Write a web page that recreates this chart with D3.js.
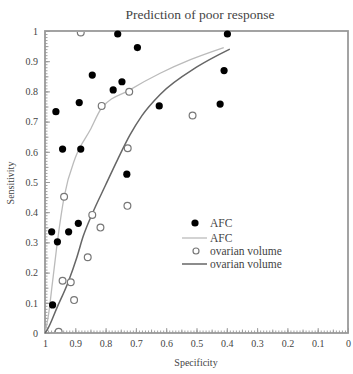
<!DOCTYPE html>
<html><head><meta charset="utf-8">
<script src="https://cdn.jsdelivr.net/npm/d3@7"></script>
<style>body{margin:0;background:#fff}svg{display:block}text{font-family:"Liberation Serif","Times New Roman",serif;fill:#444}</style>
</head><body>
<script>
const title = "Prediction of poor response";
const xLabel = "Specificity";
const yLabel = "Sensitivity";
const tickValues = [0,0.1,0.2,0.3,0.4,0.5,0.6,0.7,0.8,0.9,1];
const tickLabels = ["0","0.1","0.2","0.3","0.4","0.5","0.6","0.7","0.8","0.9","1"];
const legendLabels = ["AFC","AFC","ovarian volume","ovarian volume"];
// AFC observed points [specificity, sensitivity]
const afcSpec = [0.760,0.695,0.844,0.746,0.775,0.887,0.964,0.942,0.882,0.730,0.890,0.978,0.922,0.959,0.975,0.398,0.623,0.409,0.422];
const afcSens = [0.990,0.945,0.854,0.832,0.805,0.763,0.733,0.609,0.609,0.526,0.363,0.335,0.335,0.302,0.093,0.990,0.752,0.869,0.758];
// ovarian volume observed points
const ovSpec = [0.882,0.722,0.813,0.727,0.937,0.728,0.844,0.817,0.859,0.942,0.915,0.904,0.955,0.513];
const ovSens = [0.995,0.799,0.752,0.612,0.451,0.421,0.391,0.349,0.251,0.173,0.168,0.109,0.004,0.720];
// fitted curves
const afcCurveSpec = [1,0.99,0.975,0.958,0.937,0.90,0.851,0.813,0.72,0.62,0.52,0.41];
const afcCurveSens = [0,0.05,0.17,0.31,0.45,0.58,0.672,0.745,0.805,0.86,0.905,0.945];
const ovCurveSpec = [1,0.993,0.96,0.923,0.895,0.874,0.844,0.80,0.76,0.72,0.68,0.62,0.5,0.39];
const ovCurveSens = [0,0.01,0.085,0.17,0.25,0.32,0.395,0.49,0.575,0.655,0.72,0.79,0.88,0.94];

const W=353,H=374;
const m={l:45,r:348,t:31,b:333};
const svg=d3.select("body").append("svg").attr("width",W).attr("height",H);
const x=d3.scaleLinear().domain([1,0]).range([m.l,m.r]);
const y=d3.scaleLinear().domain([0,1]).range([m.b,m.t]);

svg.append("defs").append("clipPath").attr("id","clip").append("rect")
  .attr("x",m.l+1).attr("y",m.t+1).attr("width",m.r-m.l-2).attr("height",m.b-m.t-2);

svg.append("text").attr("x",200).attr("y",19).attr("text-anchor","middle").attr("font-size",13.5).text(title);

// frame
const frameCol="#999";
svg.append("rect").attr("x",m.l).attr("y",m.t).attr("width",m.r-m.l).attr("height",m.b-m.t)
  .attr("fill","none").attr("stroke",frameCol).attr("stroke-width",1.8);

const minor=d3.range(0,101).map(i=>i/100);
const mid=d3.range(0,21).map(i=>i/20);
function axes(){
  const gx=svg.append("g").attr("transform",`translate(0,${m.b})`);
  gx.append("g").call(d3.axisBottom(x).tickValues(minor).tickSize(-2.5).tickFormat(""));
  gx.append("g").call(d3.axisBottom(x).tickValues(mid).tickSize(-3.5).tickFormat(""));
  gx.append("g").call(d3.axisBottom(x).tickValues(tickValues).tickSize(-5).tickPadding(7).tickFormat((d,i)=>tickLabels[i]));
  const gy=svg.append("g").attr("transform",`translate(${m.l},0)`);
  gy.append("g").call(d3.axisLeft(y).tickValues(minor).tickSize(-2.5).tickFormat(""));
  gy.append("g").call(d3.axisLeft(y).tickValues(mid).tickSize(-3.5).tickFormat(""));
  gy.append("g").call(d3.axisLeft(y).tickValues(tickValues).tickSize(-5).tickPadding(7).tickFormat((d,i)=>tickLabels[i]));
  svg.selectAll(".domain").remove();
  svg.selectAll(".tick line").attr("stroke",frameCol).attr("stroke-width",0.9);
  svg.selectAll(".tick text").attr("font-family","Liberation Serif, serif").attr("font-size",10).attr("fill","#555");
}
axes();

svg.append("text").attr("x",196).attr("y",366).attr("text-anchor","middle").attr("font-size",10).attr("fill","#555").text(xLabel);
svg.append("text").attr("transform","translate(14,183) rotate(-90)").attr("text-anchor","middle").attr("font-size",10).attr("fill","#555").text(yLabel);

const line=d3.line().x(d=>x(d[0])).y(d=>y(d[1])).curve(d3.curveMonotoneX);
svg.append("path").attr("d",line(afcCurveSpec.map((s,i)=>[s,afcCurveSens[i]])))
  .attr("fill","none").attr("stroke","#bbb").attr("stroke-width",1.3);
svg.append("path").attr("d",line(ovCurveSpec.map((s,i)=>[s,ovCurveSens[i]])))
  .attr("fill","none").attr("stroke","#666").attr("stroke-width",1.5);

svg.append("g").attr("clip-path","url(#clip)").selectAll("circle").data(ovSpec.map((s,i)=>[s,ovSens[i]])).join("circle")
  .attr("cx",d=>x(d[0])).attr("cy",d=>y(d[1])).attr("r",3.4).attr("fill","#fff").attr("stroke","#777").attr("stroke-width",1.2);
svg.append("g").selectAll("circle").data(afcSpec.map((s,i)=>[s,afcSens[i]])).join("circle")
  .attr("cx",d=>x(d[0])).attr("cy",d=>y(d[1])).attr("r",3.6).attr("fill","#000");

// legend
const lg=svg.append("g");
const lx=210, ly=[223,238,251,264];
lg.append("circle").attr("cx",195).attr("cy",ly[0]).attr("r",3.6).attr("fill","#000");
lg.append("line").attr("x1",182).attr("x2",207).attr("y1",ly[1]).attr("y2",ly[1]).attr("stroke","#bbb").attr("stroke-width",1.3);
lg.append("circle").attr("cx",196).attr("cy",ly[2]).attr("r",3).attr("fill","#fff").attr("stroke","#777").attr("stroke-width",1.2);
lg.append("line").attr("x1",182).attr("x2",207).attr("y1",ly[3]).attr("y2",ly[3]).attr("stroke","#666").attr("stroke-width",1.5);
legendLabels.forEach((t,i)=>lg.append("text").attr("x",lx).attr("y",ly[i]+3.5).attr("font-size",11.5).attr("fill","#555").text(t));
</script>
</body></html>
